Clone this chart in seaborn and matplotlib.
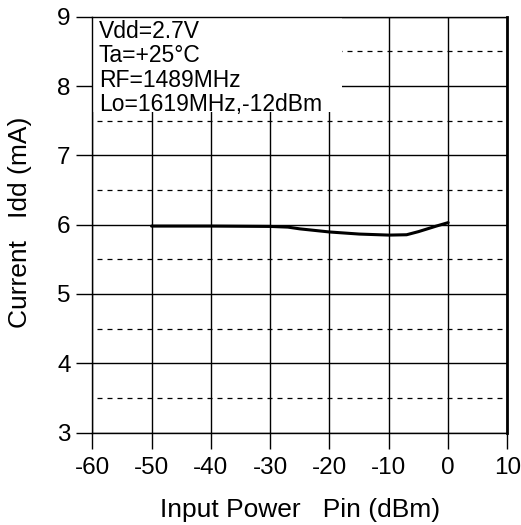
import matplotlib
matplotlib.use("Agg")
import matplotlib.pyplot as plt
import seaborn as sns
import pandas as pd
from matplotlib.patches import Rectangle

# values
pin_dbm = [-50, -40, -30, -27, -25, -20, -15, -10, -7, -5, -2, 0]
idd_ma = [5.98, 5.98, 5.975, 5.965, 5.94, 5.895, 5.865, 5.85, 5.855, 5.9, 5.98, 6.03]
x_ticks = [-60, -50, -40, -30, -20, -10, 0, 10]
y_ticks = [3, 4, 5, 6, 7, 8, 9]
y_half = [3.5, 4.5, 5.5, 6.5, 7.5, 8.5]
conditions = ["Vdd=2.7V", "Ta=+25°C", "RF=1489MHz", "Lo=1619MHz,-12dBm"]

sns.set_style("white")
plt.rcParams['font.family'] = ['Liberation Sans', 'DejaVu Sans']
plt.rcParams.update({"text.color": "black", "axes.labelcolor": "black",
                     "xtick.color": "black", "ytick.color": "black"})

df = pd.DataFrame({"pin": pin_dbm, "idd": idd_ma})

fig = plt.figure(figsize=(5.21, 5.25), dpi=100)
ax = fig.add_axes([0.177, 0.176, 0.797, 0.792])

# grid: solid on the ticks, dashed on the half steps
for xv in x_ticks:
    ax.axvline(xv, color="black", lw=1.0, zorder=1)
for yv in y_ticks:
    ax.axhline(yv, color="black", lw=1.0, zorder=1)
for yv in y_half:
    ax.axhline(yv, xmin=0.012, color="black", lw=0.9, ls=(0, (4, 4)), zorder=1)

sns.lineplot(data=df, x="pin", y="idd", ax=ax, color="black", lw=2.2, zorder=3)

ax.set_xlim(-60, 10)
ax.set_ylim(3, 9)
ax.set_xticks(x_ticks)
ax.set_yticks(y_ticks)
ax.set_xticklabels([str(v) for v in x_ticks])
ax.set_yticklabels([str(v) for v in y_ticks])
ax.tick_params(direction="out", length=11.5, width=1.0, color="black",
               labelcolor="black", labelsize=17.5, left=True, bottom=True)
ax.tick_params(axis="x", pad=6)
ax.tick_params(axis="y", pad=4)

ax.set_xlabel("Input Power   Pin (dBm)", fontsize=19, color="black")
ax.set_ylabel("Current   Idd (mA)", fontsize=19, color="black")
ax.xaxis.set_label_coords(0.5, -0.158)
ax.yaxis.set_label_coords(-0.145, 0.505)

for s in ["left", "bottom", "top"]:
    ax.spines[s].set_color("black")
    ax.spines[s].set_linewidth(1.0)
ax.spines["right"].set_color("black")
ax.spines["right"].set_linewidth(2.0)

# white box behind the condition text
ax.add_patch(Rectangle((0.0, 0.771), 0.602, 0.229, transform=ax.transAxes,
                       facecolor="white", edgecolor="none", zorder=2))
for i, line in enumerate(conditions):
    ax.text(0.016, 0.949 - i * 0.0585, line, transform=ax.transAxes,
            ha="left", va="baseline", fontsize=16.5, color="black", zorder=4)

fig.savefig("out.png", dpi=100)
